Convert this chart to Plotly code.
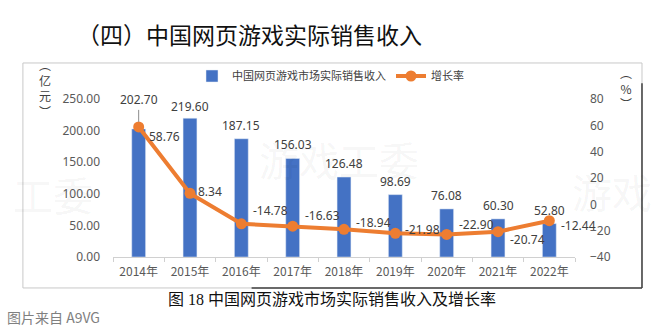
import plotly.graph_objects as go

years = ["2014年", "2015年", "2016年", "2017年", "2018年", "2019年", "2020年", "2021年", "2022年"]
revenue = [202.70, 219.60, 187.15, 156.03, 126.48, 98.69, 76.08, 60.30, 52.80]
growth = [58.76, 8.34, -14.78, -16.63, -18.94, -21.98, -22.90, -20.74, -12.44]
left_ticks = [0, 50, 100, 150, 200, 250]
right_ticks = [-40, -20, 0, 20, 40, 60, 80]

# label offsets (px) for growth labels
g_dx = [8, 6, 10, 10, 10, 8, 10, 10, 10]
g_dy = [-10, 2, 13, 11, 7, 4, 10, -8, -5]
b_dy = [0, 1, 3, 3, 3, 3, 3, 3, 3]

BLUE = "#4472C4"
ORANGE = "#ED7D31"
TXT = "#404040"
FONT = "Noto Sans, Noto Sans CJK SC, sans-serif"
CJK = "Noto Sans CJK SC, sans-serif"

fig = go.Figure()
fig.add_trace(go.Bar(
    x=years, y=revenue, name="中国网页游戏市场实际销售收入",
    marker_color=BLUE, width=0.27, yaxis="y",
))
fig.add_trace(go.Scatter(
    x=years, y=growth, name="增长率", yaxis="y2", mode="lines+markers",
    line=dict(color=ORANGE, width=4), marker=dict(color=ORANGE, size=11),
))

ann = []
for i, (c, v) in enumerate(zip(years, revenue)):
    if i == 0:
        ann.append(dict(x=c, y=v, xref="x", yref="y", text=f"{v:.2f}", showarrow=True,
                        arrowhead=0, arrowwidth=1, arrowcolor="#8c8c8c", ax=0, ay=-29,
                        standoff=7, font=dict(size=12, color=TXT, family=FONT)))
    else:
        ann.append(dict(x=c, y=v, xref="x", yref="y", text=f"{v:.2f}", showarrow=False,
                        xanchor="center", yanchor="bottom", yshift=b_dy[i],
                        font=dict(size=12, color=TXT, family=FONT)))
for i, (c, v) in enumerate(zip(years, growth)):
    ann.append(dict(x=c, y=v, xref="x", yref="y2", text=f"{v:.2f}", showarrow=False,
                    xanchor="left", yanchor="middle", xshift=g_dx[i], yshift=g_dy[i],
                    font=dict(size=12, color=TXT, family=FONT)))


def pan(text, x, y, size, color, family, xanchor="center"):
    return dict(x=x, y=y, xref="paper", yref="paper", text=text, showarrow=False,
                xanchor=xanchor, yanchor="middle", align="center",
                font=dict(size=size, color=color, family=family))


# Watermarks
for tx, xx, yy in [("工委", -0.13, 0.40), ("游戏工委", 0.49, 0.62), ("游戏", 1.08, 0.42)]:
    ann.append(pan(tx, xx, yy, 40, "rgba(0,0,0,0.05)", CJK))
# Axis unit labels
ann.append(pan("︵<br>亿<br>元<br>︶", -0.147, 1.07, 12, TXT, CJK))
ann.append(pan("︵<br>%<br>︶", 1.11, 1.07, 12, TXT, CJK))
# Title, caption, source
ann.append(pan("（四）中国网页游戏实际销售收入", 0.295, 1.41, 23, "#111111", CJK))
ann.append(pan("图 18 中国网页游戏市场实际销售收入及增长率", 0.475, -0.272, 16, "#111111",
               "Liberation Serif, Noto Sans CJK SC, serif"))
ann.append(pan("图片来自 A9VG", -0.234, -0.38, 14, "#808080", CJK, xanchor="left"))

fig.update_layout(
    width=660, height=326,
    margin=dict(l=113, r=85, t=99, b=69, autoexpand=False),
    paper_bgcolor="white", plot_bgcolor="white",
    font=dict(family=FONT, color=TXT, size=12),
    showlegend=True,
    legend=dict(orientation="h", xref="container", yref="container",
                x=192 / 660, y=1 - 76 / 326, xanchor="left", yanchor="middle",
                font=dict(size=11, color=TXT, family=CJK), bgcolor="rgba(0,0,0,0)",
                tracegroupgap=0),
    xaxis=dict(range=[-0.5, len(years) - 0.5], autorange=False,
               showline=True, linecolor="#d0d0d0", ticks="outside", tickson="boundaries",
               ticklen=4, tickcolor="#d0d0d0", tickfont=dict(size=12, color="#595959", family=CJK),
               showgrid=False, automargin=False, ticklabelstandoff=4),
    yaxis=dict(range=[0, 250], tickvals=left_ticks, tickformat=".2f", showgrid=False,
               zeroline=False, showline=False, ticklabelstandoff=12, automargin=False,
               tickfont=dict(size=12, color="#595959")),
    yaxis2=dict(range=[-40, 80], tickvals=right_ticks, overlaying="y", side="right",
                showgrid=False, zeroline=False, showline=False, ticklabelstandoff=14,
                automargin=False, tickfont=dict(size=12, color="#595959")),
    annotations=ann,
    shapes=[dict(type="rect", xref="paper", yref="paper", x0=-0.195, x1=1.145, y0=-0.196, y1=1.228,
                 line=dict(color="#c8c8c8", width=1), layer="above")],
    bargap=0.7,
)
fig.add_shape(type="line", xref="paper", yref="paper", x0=1.145, x1=1.145, y0=-0.196, y1=1.1,
              line=dict(color="#404040", width=1.5))
fig.add_shape(type="line", xref="paper", yref="paper", x0=0.3, x1=1.145, y0=-0.196, y1=-0.196,
              line=dict(color="#404040", width=1.5))

fig.write_html("out.html")
